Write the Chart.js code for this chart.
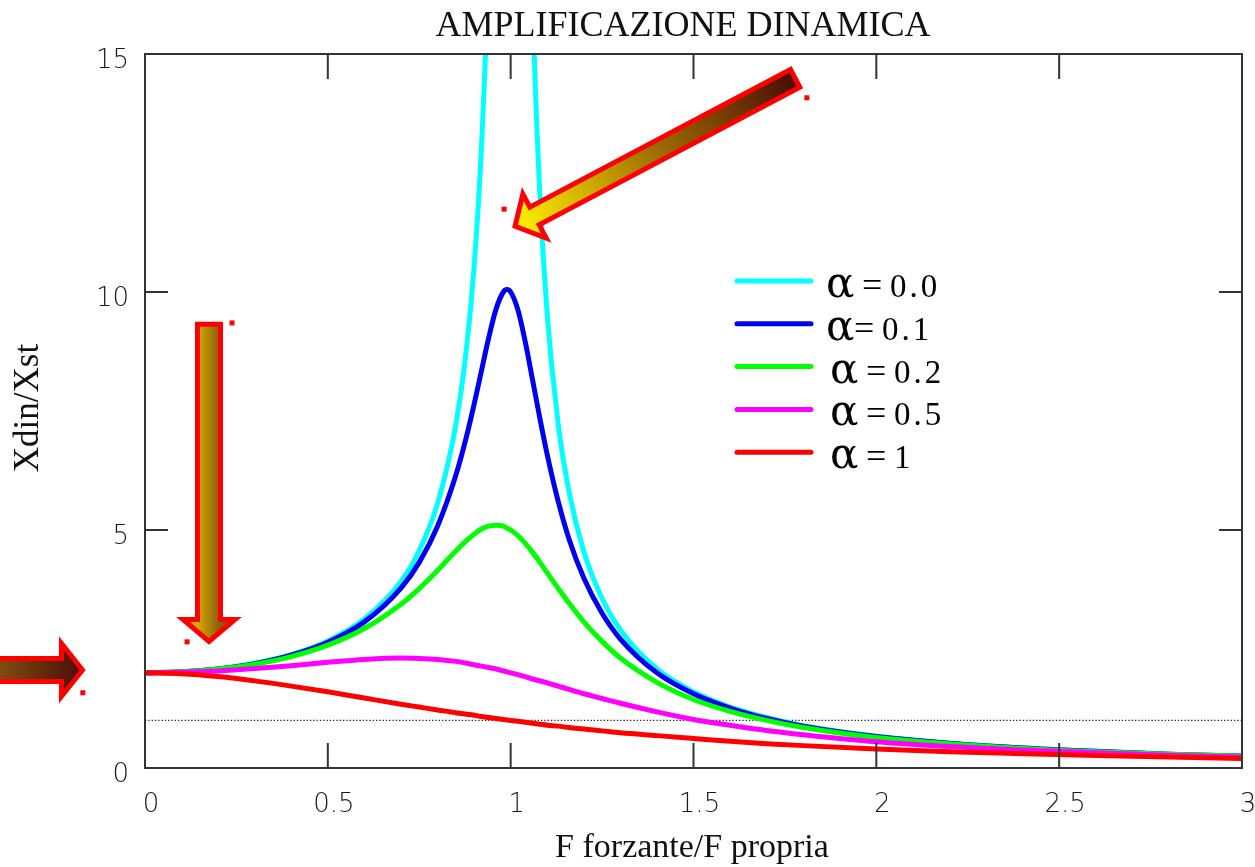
<!DOCTYPE html>
<html>
<head>
<meta charset="utf-8">
<title>Amplificazione dinamica</title>
<script src="https://cdn.jsdelivr.net/npm/chart.js@4.4.1/dist/chart.umd.min.js"></script>
<style>
  body { margin: 0; background: #fff; }
  canvas { display: block; }
</style>
</head>
<body>
<canvas id="ampChart" width="1255" height="867"></canvas>
<script>
// rapporto F forzante / F propria
var freqRatio = [0, 0.1, 0.2, 0.3, 0.4, 0.5, 0.6, 0.7, 0.75, 0.8, 0.85, 0.88, 0.9,
  0.92, 0.94, 0.96, 0.98, 0.99, 1.0, 1.02, 1.04, 1.06, 1.08, 1.1, 1.13, 1.16, 1.2, 1.25, 1.3,
  1.4, 1.5, 1.6, 1.7, 1.8, 2.0, 2.2, 2.4, 2.6, 2.8, 3.0];

// Xdin/Xst, una serie per ogni smorzamento
var amp00 = [2.00, 2.02, 2.08, 2.20, 2.38, 2.67, 3.13, 3.92, 4.57, 5.56, 7.21, 8.87, 10.53,
  13.02, 17.18, 25.5, 50.5, 100.5, null, 49.5, 24.5, 16.18, 12.02, 9.52, 7.22, 5.79, 4.55, 3.56, 2.90,
  2.08, 1.60, 1.28, 1.06, 0.89, 0.67, 0.52, 0.42, 0.35, 0.29, 0.25];
var amp01 = [2.00, 2.02, 2.08, 2.19, 2.37, 2.64, 3.07, 3.78, 4.32, 5.08, 6.15, 6.99, 7.64,
  8.34, 9.04, 9.64, 10.00, 10.05, 10.00, 9.62, 8.95, 8.15, 7.34, 6.58, 5.60, 4.80, 3.99, 3.25, 2.71,
  2.00, 1.56, 1.26, 1.04, 0.88, 0.66, 0.52, 0.42, 0.35, 0.29, 0.25];
var amp02 = [2.00, 2.02, 2.08, 2.18, 2.34, 2.58, 2.93, 3.44, 3.77, 4.15, 4.56, 4.78, 4.91,
  5.02, 5.08, 5.10, 5.08, 5.04, 5.00, 4.88, 4.72, 4.53, 4.32, 4.10, 3.77, 3.46, 3.07, 2.66, 2.31,
  1.80, 1.44, 1.19, 1.00, 0.85, 0.64, 0.51, 0.41, 0.34, 0.29, 0.25];
var amp05 = [2.00, 2.01, 2.04, 2.09, 2.15, 2.22, 2.28, 2.31, 2.30, 2.28, 2.24, 2.20, 2.17,
  2.14, 2.11, 2.08, 2.04, 2.02, 2.00, 1.96, 1.92, 1.87, 1.83, 1.79, 1.72, 1.65, 1.56, 1.46, 1.36,
  1.18, 1.02, 0.90, 0.79, 0.70, 0.55, 0.45, 0.38, 0.32, 0.27, 0.23];
var amp10 = [2.00, 1.98, 1.92, 1.83, 1.72, 1.60, 1.47, 1.34, 1.28, 1.22, 1.16, 1.13, 1.11,
  1.08, 1.06, 1.04, 1.02, 1.01, 1.00, 0.98, 0.96, 0.94, 0.92, 0.90, 0.88, 0.85, 0.82, 0.78, 0.74,
  0.68, 0.62, 0.56, 0.51, 0.47, 0.40, 0.34, 0.30, 0.26, 0.23, 0.20];

var alphaValues = ['0.0', '0.1', '0.2', '0.5', '1'];
var lineColors = ['#00ffff', '#0000f0', '#00ff00', '#ff00ff', '#ff0000'];

// riga tratteggiata Xdin/Xst = 1
var unityX = [0, 3];
var unityY = [1, 1];

var xTickLabels = ['0', '0.5', '1', '1.5', '2', '2.5', '3'];
var yTickLabels = ['0', '5', '10', '15'];

// frecce decorative (coordinate nei valori degli assi)
var arrows = [
  { tail: [1.778, 14.49], tip: [1.012, 11.38], shaft: 20, head: 50, headLen: 22,
    grad: 'along', stops: ['#4a0c04', '#a06e04', '#fff200'] },
  { tail: [0.175, 9.32], tip: [0.175, 2.66], shaft: 23, head: 52, headLen: 22,
    grad: 'across', stops: ['#d4aa00', '#8a5a10'] },
  { tail: [-0.45, 2.06], tip: [-0.171, 2.06], shaft: 23, head: 53, headLen: 21,
    grad: 'along', stops: ['#8e5a14', '#4a0e06'] }
];
var redDots = [[1.81, 14.08], [0.982, 11.74], [0.238, 9.35], [0.115, 2.65], [-0.170, 1.58]];

var seriesValues = [amp00, amp01, amp02, amp05, amp10];

var datasets = seriesValues.map(function(vals, k) {
    return {
        label: '\u03b1 = ' + alphaValues[k],
        data: freqRatio.map(function(x, i) { return { x: x, y: vals[i] }; }),
        borderColor: lineColors[k],
        borderWidth: 5,
        order: 5 - k,
        clip: 0
    };
});
datasets.push({
    label: 'unity',
    data: unityX.map(function(x, i) { return { x: x, y: unityY[i] }; }),
    borderColor: '#222',
    borderWidth: 1.3,
    borderDash: [1.3, 2],
    order: 10,
    clip: 0
});

function drawArrow(ctx, tail, tip, a) {
    var dx = tip[0] - tail[0], dy = tip[1] - tail[1];
    var len = Math.sqrt(dx * dx + dy * dy);
    var ux = dx / len, uy = dy / len;
    var nx = -uy, ny = ux;
    var bx = tip[0] - ux * a.headLen, by = tip[1] - uy * a.headLen;
    var s = a.shaft / 2, h = a.head / 2;
    var pts = [
        [tail[0] + nx * s, tail[1] + ny * s],
        [bx + nx * s, by + ny * s],
        [bx + nx * h, by + ny * h],
        tip,
        [bx - nx * h, by - ny * h],
        [bx - nx * s, by - ny * s],
        [tail[0] - nx * s, tail[1] - ny * s]
    ];
    var g;
    if (a.grad === 'along') {
        g = ctx.createLinearGradient(tail[0], tail[1], tip[0], tip[1]);
    } else {
        var mx = (tail[0] + bx) / 2, my = (tail[1] + by) / 2;
        g = ctx.createLinearGradient(mx + nx * s, my + ny * s, mx - nx * s, my - ny * s);
    }
    a.stops.forEach(function(c, i) { g.addColorStop(i / (a.stops.length - 1), c); });
    ctx.beginPath();
    ctx.moveTo(pts[0][0], pts[0][1]);
    for (var i = 1; i < pts.length; i++) ctx.lineTo(pts[i][0], pts[i][1]);
    ctx.closePath();
    ctx.fillStyle = g;
    ctx.fill();
    ctx.lineJoin = 'miter';
    ctx.lineWidth = 5;
    ctx.strokeStyle = '#ff0000';
    ctx.stroke();
}

var decorPlugin = {
    id: 'decor',
    afterDatasetsDraw: function(chart) {
        var ctx = chart.ctx, area = chart.chartArea;
        var xs = chart.scales.x, ys = chart.scales.y;
        ctx.save();
        ctx.strokeStyle = '#333';
        ctx.lineWidth = 2;
        ctx.strokeRect(area.left, area.top, area.right - area.left, area.bottom - area.top);
        // tacche interne
        ctx.beginPath();
        xs.ticks.forEach(function(t) {
            var px = xs.getPixelForValue(t.value);
            ctx.moveTo(px, area.bottom); ctx.lineTo(px, area.bottom - 25);
            ctx.moveTo(px, area.top); ctx.lineTo(px, area.top + 25);
        });
        ys.ticks.forEach(function(t) {
            var py = ys.getPixelForValue(t.value);
            ctx.moveTo(area.left, py); ctx.lineTo(area.left + 23, py);
            ctx.moveTo(area.right, py); ctx.lineTo(area.right - 23, py);
        });
        ctx.stroke();
        ctx.restore();
    },
    afterDraw: function(chart) {
        var ctx = chart.ctx, area = chart.chartArea;
        var xs = chart.scales.x, ys = chart.scales.y;
        ctx.save();
        ctx.fillStyle = '#111';
        ctx.textBaseline = 'alphabetic';
        ctx.textAlign = 'center';
        ctx.font = '36px "Liberation Serif"';
        ctx.fillText('AMPLIFICAZIONE DINAMICA', 683, 36);
        ctx.font = '34px "Liberation Serif"';
        ctx.fillText('F forzante/F propria', 692, 857);
        ctx.save();
        ctx.translate(38, 408);
        ctx.rotate(-Math.PI / 2);
        ctx.font = '35px "Liberation Serif"';
        ctx.fillText('Xdin/Xst', 0, 0);
        ctx.restore();

        // legenda
        var lx = 735, ly = 281;
        chart.data.datasets.slice(0, 5).forEach(function(ds, i) {
            var y = ly + i * 42.8;
            ctx.beginPath();
            ctx.lineCap = 'round';
            ctx.lineWidth = 5;
            ctx.strokeStyle = ds.borderColor;
            ctx.moveTo(lx + 2, y); ctx.lineTo(lx + 76, y);
            ctx.stroke();
            ctx.fillStyle = '#000';
            ctx.textAlign = 'left';
            var x0 = i < 2 ? 826 : 830;
            ctx.font = '42px "DejaVu Serif"';
            ctx.fillText('\u03b1', x0, y + 16);
            ctx.font = '36px "Liberation Serif"';
            ctx.fillText('=', i === 1 ? x0 + 28 : x0 + 36, y + 16);
            ctx.font = '33px "Liberation Serif"';
            ctx.letterSpacing = '3px';
            ctx.fillText(alphaValues[i], i === 1 ? x0 + 56 : x0 + 64, y + 16);
            ctx.letterSpacing = '0px';
        });

        // frecce
        arrows.forEach(function(a) {
            var tail = [xs.getPixelForValue(a.tail[0]), ys.getPixelForValue(a.tail[1])];
            var tip = [xs.getPixelForValue(a.tip[0]), ys.getPixelForValue(a.tip[1])];
            drawArrow(ctx, tail, tip, a);
        });
        ctx.fillStyle = '#ff0000';
        redDots.forEach(function(d) {
            ctx.fillRect(xs.getPixelForValue(d[0]) - 2.5, ys.getPixelForValue(d[1]) - 2.5, 5, 5);
        });
        ctx.restore();
    }
};

var tickFont = { family: '"DejaVu Sans"', size: 26, weight: 300 };

var ctx = document.getElementById('ampChart').getContext('2d');
var ampChart = new Chart(ctx, {
    type: 'line',
    data: { datasets: datasets },
    options: {
        responsive: false,
        animation: false,
        devicePixelRatio: 1,
        layout: { padding: { top: 54, right: 13, bottom: 0, left: 0 } },
        elements: {
            point: { radius: 0 },
            line: { cubicInterpolationMode: 'monotone', borderCapStyle: 'butt' }
        },
        plugins: {
            legend: { display: false },
            title: { display: false },
            tooltip: { enabled: false }
        },
        scales: {
            x: {
                type: 'linear', min: 0, max: 3,
                afterFit: function(s) { s.height = 99; s.paddingLeft = 0; s.paddingRight = 0; },
                grid: { display: false, drawTicks: false },
                border: { display: false },
                ticks: {
                    stepSize: 0.5, padding: 22, labelOffset: 6, color: '#1a1a1a', font: tickFont,
                    maxRotation: 0,
                    callback: function(v, i) { return xTickLabels[i]; }
                }
            },
            y: {
                min: 0, max: 15,
                afterFit: function(s) { s.width = 145; s.paddingTop = 0; s.paddingBottom = 0; },
                grid: { display: false, drawTicks: false },
                border: { display: false },
                ticks: {
                    stepSize: 5, padding: 16, labelOffset: 7, color: '#1a1a1a', font: tickFont,
                    callback: function(v, i) { return yTickLabels[i]; }
                }
            }
        }
    },
    plugins: [decorPlugin]
});
</script>
</body>
</html>
